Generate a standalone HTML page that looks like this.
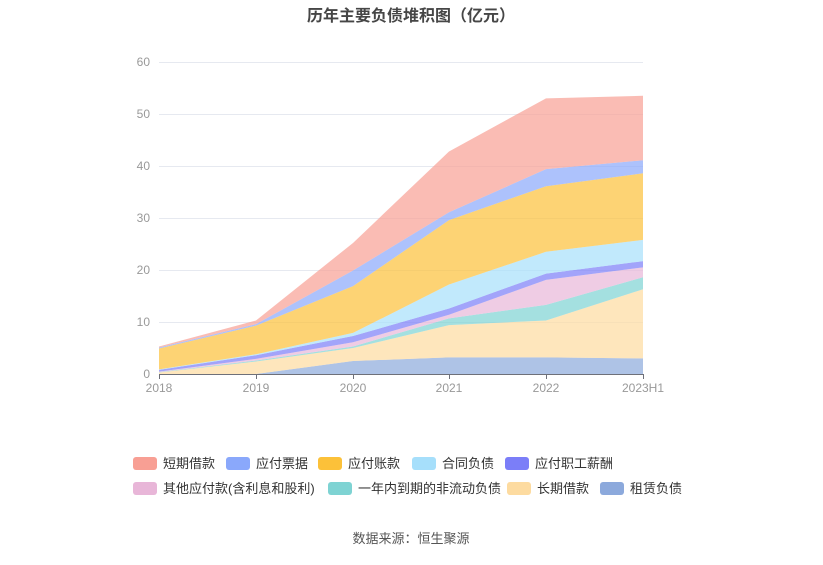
<!DOCTYPE html>
<html><head><meta charset="utf-8"><style>
body{margin:0;background:#fff;width:823px;height:560px;overflow:hidden;font-family:"Liberation Sans","Noto Sans CJK SC",sans-serif}
</style></head><body>
<svg id="s" width="823" height="560" xmlns="http://www.w3.org/2000/svg" font-family="Liberation Sans, Noto Sans CJK SC, sans-serif">
<text x="411" y="21" text-anchor="middle" font-size="16" font-weight="bold" fill="#464646">历年主要负债堆积图（亿元）</text>
<g stroke="#e6e9f0" stroke-width="1">
<line x1="159" x2="643" y1="62.5" y2="62.5"/><line x1="159" x2="643" y1="114.5" y2="114.5"/><line x1="159" x2="643" y1="166.5" y2="166.5"/><line x1="159" x2="643" y1="218.5" y2="218.5"/><line x1="159" x2="643" y1="270.5" y2="270.5"/><line x1="159" x2="643" y1="322.5" y2="322.5"/>
</g>
<g font-size="12" fill="#999" text-anchor="end">
<text x="150" y="378">0</text><text x="150" y="326">10</text><text x="150" y="274">20</text><text x="150" y="222">30</text><text x="150" y="170">40</text><text x="150" y="118">50</text><text x="150" y="66">60</text>
</g>
<g id="areas"></g>
<line x1="159" x2="643" y1="374.5" y2="374.5" stroke="#6e7079"/>
<g stroke="#6e7079"><line x1="159.5" x2="159.5" y1="374" y2="379"/><line x1="256.5" x2="256.5" y1="374" y2="379"/><line x1="353.5" x2="353.5" y1="374" y2="379"/><line x1="449.5" x2="449.5" y1="374" y2="379"/><line x1="546.5" x2="546.5" y1="374" y2="379"/><line x1="643.5" x2="643.5" y1="374" y2="379"/></g>
<g font-size="12" fill="#999" text-anchor="middle">
<text x="159" y="392">2018</text><text x="256" y="392">2019</text><text x="353" y="392">2020</text><text x="449" y="392">2021</text><text x="546" y="392">2022</text><text x="643" y="392">2023H1</text>
</g>
<g font-size="13" fill="#333" id="leg"></g>
<text x="411" y="543" text-anchor="middle" font-size="13" fill="#555">数据来源：恒生聚源</text>
</svg>
<script>
var xs=[159,256,353,449,546,643];
var tops=[
[0,0,2.5,3.2,3.2,3.0],
[0.3,2.4,5.0,9.4,10.3,16.3],
[0.35,2.6,5.3,10.7,13.3,18.6],
[0.45,2.9,6.1,11.4,18.1,20.5],
[0.8,3.6,7.3,12.6,19.3,21.7],
[0.9,3.8,7.9,17.2,23.5,25.8],
[4.9,9.3,16.9,29.6,36.1,38.6],
[5.1,9.6,19.9,31.1,39.4,41.1],
[5.3,10.3,25.2,42.8,53.0,53.5]];
var cols=["#8ca9dc","#fddba0","#7ed3d3","#e8b6d8","#7b7ef8","#a6dffb","#fcc139","#8aa8fb","#f89f94"];
var names=["租赁负债","长期借款","一年内到期的非流动负债","其他应付款(含利息和股利)","应付职工薪酬","合同负债","应付账款","应付票据","短期借款"];
function y(v){return 374-v*5.2;}
var g=document.getElementById('areas'),h='';
for(var i=0;i<9;i++){var p=[];for(var j=0;j<6;j++)p.push(xs[j]+','+y(tops[i][j]));
for(var j=5;j>=0;j--)p.push(xs[j]+','+y(i?tops[i-1][j]:0));
h+='<polygon points="'+p.join(' ')+'" fill="'+cols[i]+'" fill-opacity="0.7"/>';}
g.innerHTML=h;
var L=[[133,463,8],[226,463,7],[318,463,6],[412,463,5],[505,463,4],[133,488,3],[328,488,2],[507,488,1],[600,488,0]];
var s='';L.forEach(function(l){s+='<rect x="'+l[0]+'" y="'+(l[1]-6)+'" width="24" height="13" rx="3" fill="'+cols[l[2]]+'"/><text x="'+(l[0]+30)+'" y="'+(l[1]+5)+'">'+names[l[2]]+'</text>';});
document.getElementById('leg').innerHTML=s;
</script>
</body></html>
